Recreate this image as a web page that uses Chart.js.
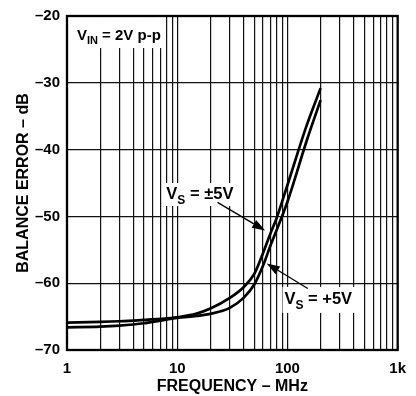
<!DOCTYPE html>
<html>
<head>
<meta charset="utf-8">
<script src="https://cdn.jsdelivr.net/npm/chart.js@4.4.1/dist/chart.umd.min.js"></script>
<style>
  html, body { margin: 0; background: #fff; }
  #wrap { width: 416px; height: 396px; }
</style>
</head>
<body>
<div id="wrap"><canvas id="c"></canvas></div>
<script>
// frequency in MHz, balance error in dB
const freqMHz   = [1, 2, 3, 5, 7, 10, 15, 20, 30, 40, 50, 60, 70, 80, 100, 150, 200];
const errSplit  = [-65.9, -65.8, -65.7, -65.5, -65.35, -65.1, -64.55, -63.8, -62.2, -60.6, -58.6, -55.5, -52.6, -50.2, -45.3, -36.3, -30.8];
const errSingle = [-66.6, -66.5, -66.35, -66.0, -65.6, -65.2, -64.9, -64.6, -63.7, -62.2, -60.2, -57.4, -54.4, -52.0, -47.8, -38.6, -32.6];

const xTickValues = [1, 10, 100, 1000];
const xTickLabels = ['1', '10', '100', '1k'];
const yTickValues = [-70, -60, -50, -40, -30, -20];
const yTickLabels = ['–70', '–60', '–50', '–40', '–30', '–20'];

// vertical grid at 1..9 of each decade
const xGrid = [];
[1, 10, 100].forEach((d) => { for (let k = 1; k < 10; k++) xGrid.push(k * d); });
xGrid.push(1000);

const FONT = "'Liberation Sans', Arial, sans-serif";

// text callouts, anchored in data coordinates (MHz, dB)
const notes = [
  { f: 1.23, v: -23.6, main: 'V', sub: 'IN', rest: ' = 2V p-p', size: 15, pad: [9, 4, 23, 8] },
  { f: 7.97, v: -47.4, main: 'V', sub: 'S', rest: ' = ±5V', size: 16.5, pad: [3, 2, 16, 7] },
  { f: 94, v: -63.1, main: 'V', sub: 'S', rest: ' = +5V', size: 16.5, pad: [2, 7, 17, 9] },
];
const arrows = [
  { from: [23.2, -47.9], to: [62.7, -52.1] },
  { from: [153, -60.8], to: [64.9, -57.06] },
];

function drawNote(ctx, x, y, n) {
  const big = `bold ${n.size}px ${FONT}`;
  const small = `bold ${Math.round(n.size * 0.72)}px ${FONT}`;
  ctx.font = big;
  const w1 = ctx.measureText(n.main).width;
  const w3 = ctx.measureText(n.rest).width;
  ctx.font = small;
  const w2 = ctx.measureText(n.sub).width;
  const w = w1 + w2 + w3;
  ctx.fillStyle = '#fff';
  ctx.fillRect(x - n.pad[0], y - n.pad[2], w + n.pad[0] + n.pad[1], n.pad[2] + n.pad[3]);
  ctx.fillStyle = '#000';
  ctx.textBaseline = 'alphabetic';
  ctx.textAlign = 'left';
  ctx.font = big;
  ctx.fillText(n.main, x, y);
  ctx.font = small;
  ctx.fillText(n.sub, x + w1, y + n.size * 0.28);
  ctx.font = big;
  ctx.fillText(n.rest, x + w1 + w2, y);
}

function drawArrow(ctx, x0, y0, x1, y1) {
  const a = Math.atan2(y1 - y0, x1 - x0);
  const len = 13, half = 4.5;
  ctx.strokeStyle = '#000';
  ctx.lineWidth = 1.3;
  ctx.beginPath();
  ctx.moveTo(x0, y0);
  ctx.lineTo(x1 - len * Math.cos(a), y1 - len * Math.sin(a));
  ctx.stroke();
  ctx.fillStyle = '#000';
  ctx.beginPath();
  ctx.moveTo(x1, y1);
  ctx.lineTo(x1 - len * Math.cos(a) + half * Math.sin(a), y1 - len * Math.sin(a) - half * Math.cos(a));
  ctx.lineTo(x1 - len * Math.cos(a) - half * Math.sin(a), y1 - len * Math.sin(a) + half * Math.cos(a));
  ctx.closePath();
  ctx.fill();
}

const callouts = {
  id: 'callouts',
  beforeDatasetsDraw(chart) {
    const { ctx, scales: { x, y } } = chart;
    ctx.save();
    notes.forEach((n) => drawNote(ctx, x.getPixelForValue(n.f), y.getPixelForValue(n.v), n));
    ctx.restore();
  },
  afterDatasetsDraw(chart) {
    const { ctx, chartArea: a, scales: { x, y } } = chart;
    ctx.save();
    arrows.forEach((r) => drawArrow(ctx,
      x.getPixelForValue(r.from[0]), y.getPixelForValue(r.from[1]),
      x.getPixelForValue(r.to[0]), y.getPixelForValue(r.to[1])));
    ctx.strokeStyle = '#000';
    ctx.lineWidth = 2.3;
    ctx.strokeRect(a.left, a.top, a.right - a.left, a.bottom - a.top);
    ctx.restore();
  },
};

const curve = (vals) => ({
  data: freqMHz.map((f, i) => ({ x: f, y: vals[i] })),
  borderColor: '#000',
  borderWidth: 2.7,
  pointRadius: 0,
  fill: false,
  cubicInterpolationMode: 'monotone',
});

new Chart(document.getElementById('c'), {
  type: 'line',
  data: { datasets: [curve(errSplit), curve(errSingle)] },
  options: {
    responsive: true,
    maintainAspectRatio: false,
    animation: false,
    events: [],
    layout: { padding: { top: 15, right: 13, left: 0, bottom: 0 } },
    plugins: { legend: { display: false }, tooltip: { enabled: false } },
    scales: {
      x: {
        type: 'logarithmic',
        min: 1,
        max: 1000,
        afterBuildTicks: (s) => { s.ticks = xGrid.map((v) => ({ value: v })); },
        afterFit: (s) => { s.height = 46; },
        grid: { color: '#111', lineWidth: 1.2, drawTicks: false },
        border: { display: false },
        ticks: {
          autoSkip: false,
          maxRotation: 0,
          padding: 10,
          color: '#000',
          font: { family: FONT, size: 15, weight: 'bold' },
          callback: (v) => {
            const i = xTickValues.indexOf(v);
            return i < 0 ? '' : xTickLabels[i];
          },
        },
        title: {
          display: true,
          text: 'FREQUENCY – MHz',
          color: '#000',
          font: { family: FONT, size: 16, weight: 'bold' },
          padding: { top: 2, bottom: 0 },
        },
      },
      y: {
        min: -70,
        max: -20,
        afterBuildTicks: (s) => { s.ticks = yTickValues.map((v) => ({ value: v })); },
        afterFit: (s) => { s.width = 67; },
        grid: { color: '#111', lineWidth: 1.2, drawTicks: false },
        border: { display: false },
        ticks: {
          padding: 7,
          color: '#000',
          font: { family: FONT, size: 15, weight: 'bold' },
          callback: (v) => yTickLabels[yTickValues.indexOf(v)],
        },
        title: {
          display: true,
          text: 'BALANCE ERROR – dB',
          color: '#000',
          font: { family: FONT, size: 16, weight: 'bold' },
          padding: { top: 14, bottom: 0 },
        },
      },
    },
  },
  plugins: [callouts],
});
</script>
</body>
</html>
